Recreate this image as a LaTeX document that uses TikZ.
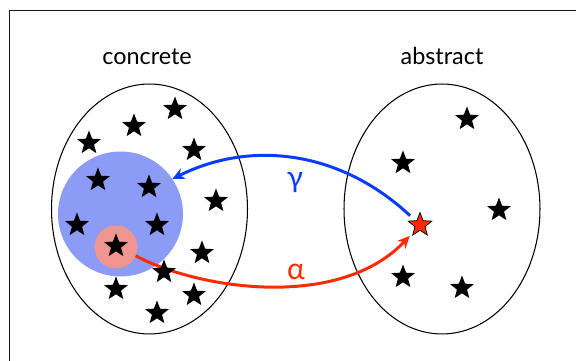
\documentclass[tikz,border=0pt]{standalone}
\usepackage{fontspec}
\setmainfont{Lato}
\usetikzlibrary{arrows.meta,shapes.geometric}
\definecolor{gammablue}{HTML}{0A3CFF}
\definecolor{alphared}{HTML}{FF2A00}
\definecolor{setblue}{HTML}{8C9BF5}
\definecolor{setpink}{HTML}{F0958F}
\tikzset{>={Stealth[length=7pt,width=6.5pt]},
  every node/.style={font=\fontsize{13.3}{15}\selectfont},
  setoval/.style={ellipse,draw,line width=.6pt,minimum width=3.92cm,minimum height=5cm,inner sep=0pt},
  elem/.style={star,star points=5,star point ratio=2.35,fill=black,minimum size=.5cm,inner sep=0pt,outer sep=0pt},
  pick/.style={elem,draw=black,fill=alphared,line width=.4pt},
  blob/.style={circle,inner sep=0pt,outer sep=0pt},
  map/.style={->,line width=1.7pt},
  greek/.style={font=\fontsize{17}{19}\selectfont}}

\begin{document}
\begin{tikzpicture}[x=.02cm,y=-.02cm]
\useasboundingbox(0,0)rectangle(576,361);
\draw[line width=.8pt,black!90](9.3,361)|-(576,10.7);
% the two sets
\node[setoval](conc)at(149.5,209){};\node[setoval](abst)at(442,209){};
\node(conclbl)at(147,57){concrete};\node(abstlbl)at(442,56){abstract};
% gamma(a) and the point itself
\node[blob,fill=setblue,minimum size=2.5cm](cblob)at(120.5,214){};
\node[blob,fill=setpink,minimum size=.86cm](pblob)at(116,247){};
\node[pick](rs)at(420,225){};
\draw[map,gammablue,shorten <=.27cm](rs.center)..controls(340,150)and(250,140)..(cblob.34);
\draw[map,alphared,shorten >=.3cm](pblob.-24)..controls(200,290)and(340,310)..(rs.center);
\node[greek,gammablue](gam)at(295,182){γ};
\node[greek,alphared](alp)at(296,272){α};
\foreach \p[count=\i]in{(175,109),(134,126),(89,143),(194,150),(98,180),(149,187),(216,201),(77,225),
  (157,225),(116,246),(202,253),(164,272),(116,289),(194,295),(157,313)}
  \node[elem](c\i)at\p{};
\foreach \p[count=\i]in{(467,119),(403,163),(499,210),(403,277),(462,288)}
  \node[elem](a\i)at\p{};
\end{tikzpicture}
\end{document}
